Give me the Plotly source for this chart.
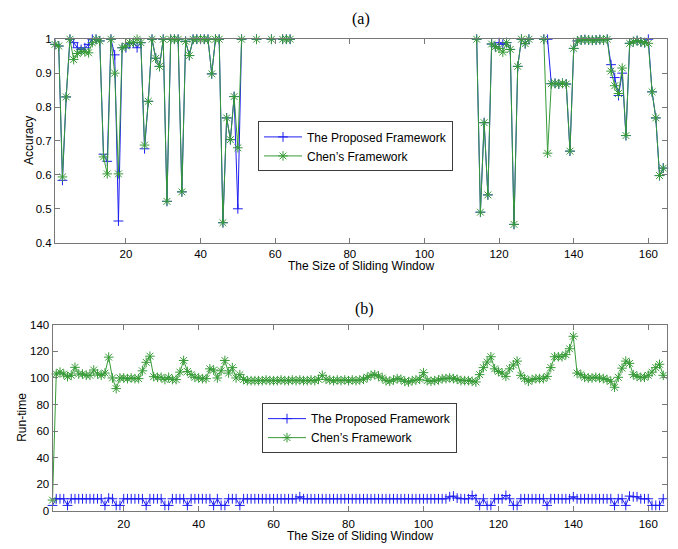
import plotly.graph_objects as go

# Sliding-window sizes
window = list(range(1, 165))

# (a) Accuracy, Chen's framework (None = no result for that window size)
acc_chen = [
    0.985, 0.98, 0.594, 0.83, 1.0, 0.94, 0.958, 0.965, 0.963, 0.96,
    0.99, 1.0, 0.995, 0.653, 0.603, 1.0, 0.90, 0.603, 0.975, 0.98,
    0.99, 0.99, 1.0, 0.99, 0.688, 0.817, 1.0, 0.944, 0.92, 1.0,
    0.522, 1.0, 1.0, 1.0, 0.55, 0.994, 0.952, 1.0, 1.0, 1.0,
    1.0, 1.0, 0.898, 1.0, 1.0, 0.459, 0.768, 0.704, 0.831, 0.68,
    1.0, None, None, None, 1.0, None, None, None, 1.0, None,
    None, 1.0, 1.0, 1.0] + [None] * 49 + [
    1.0, 0.49, 0.754, 0.541, 0.986, 0.978, 0.973, 0.962, 0.99, 0.97,
    0.454, 0.92, 1.0, 0.987, 1.0, None, None, None, 1.0, 0.664,
    0.869, 0.87, 0.868, 0.87, 0.868, 0.67, 0.973, 0.995, 0.998, 0.999,
    0.998, 0.997, 0.998, 0.999, 0.998, 1.0, 0.906, 0.863, 0.84, 0.915,
    0.716, 0.988, 0.993, 0.996, 0.992, 0.99, 0.988, 0.845, 0.768, 0.598,
    0.62]

# (a) Accuracy, proposed framework
acc_prop = [
    0.985, 0.98, 0.584, 0.83, 1.0, 0.99, 0.975, 0.97, 0.975, 0.985,
    1.0, 1.0, 0.995, 0.661, 0.64, 1.0, 0.954, 0.464, 0.975, 0.975,
    0.987, 0.99, 0.975, 0.99, 0.677, 0.817, 1.0, 0.944, 0.92, 1.0,
    0.522, 1.0, 1.0, 1.0, 0.55, 0.994, 0.952, 1.0, 1.0, 1.0,
    1.0, 1.0, 0.898, 1.0, 1.0, 0.459, 0.768, 0.704, 0.831, 0.5,
    1.0, None, None, None, 1.0, None, None, None, 1.0, None,
    None, 1.0, 1.0, 1.0] + [None] * 49 + [
    1.0, 0.49, 0.754, 0.541, 0.986, 0.978, 0.99, 0.985, 0.99, 0.97,
    0.454, 0.92, 1.0, 0.987, 1.0, None, None, None, 1.0, 1.0,
    0.869, 0.87, 0.868, 0.87, 0.868, 0.67, 0.973, 0.995, 0.998, 0.999,
    0.998, 0.997, 0.998, 0.999, 0.998, 1.0, 0.925, 0.887, 0.834, 0.9,
    0.716, 0.988, 0.993, 0.996, 0.992, 0.99, 1.0, 0.845, 0.768, 0.598,
    0.62]

# (b) Run-time, Chen's framework
rt_chen = [
    8, 103, 104.4, 103, 101, 102, 108, 103, 103, 102,
    102, 106, 103, 102, 103.7, 115.7, 100, 92, 100, 100,
    99.5, 100, 99.5, 99.5, 105.4, 111.8, 116.4, 101, 100.5, 100.5,
    98.8, 100.5, 98.8, 98.8, 104.4, 113.2, 104.9, 102.5, 100.5, 100,
    99.5, 99.5, 106.9, 106, 100, 105.4, 113.2, 103.7, 107.8, 100,
    102.5, 98.8, 98, 98, 98, 98, 98, 98.5, 98, 98,
    98, 98.5, 98, 98, 98.5, 98, 98.5, 98, 98, 98.5,
    98, 99, 102, 99, 98.5, 98, 98.5, 98, 98.5, 98,
    98.5, 98, 98.5, 99, 100.5, 102, 102.5, 101.5, 100, 98,
    97.5, 98.5, 99.5, 99, 97.5, 97, 98, 98.5, 99, 104,
    98, 97.5, 98, 98.5, 99.5, 99.5, 100, 99.5, 99, 98,
    98, 98, 97.5, 97, 102.5, 107.8, 112, 116, 106.9, 104.9,
    103.7, 101.2, 106.9, 109.8, 112.7, 102, 99.5, 97.5, 98.8, 99.5,
    99.5, 99.5, 101.2, 107.8, 116, 116, 116, 117.6, 122, 131.4,
    103.7, 102.5, 100.5, 100, 100, 100.5, 100, 99.5, 98.8, 97.5,
    93, 100.5, 107.4, 112.7, 111, 102.5, 101.2, 100.5, 100.5, 102,
    104.4, 107.8, 110.3, 102]

# (b) Run-time, proposed framework
rt_prop = [
    4, 9, 9, 9, 4, 9, 9, 9, 9, 9,
    9, 9, 9, 9, 4, 9.5, 9, 4, 4, 9,
    9, 9, 9, 9, 9, 4, 9, 9, 9, 9,
    4, 4, 9, 9, 9, 9, 4, 9, 9, 9,
    9, 9, 9, 4, 9, 4, 4, 9, 9, 9,
    4, 9, 9, 9, 9, 9, 9, 9, 9, 9,
    9, 9, 9, 9, 9, 9, 10.5, 9, 9, 9,
    9, 9, 9, 9, 9, 9, 9, 9, 9, 9,
    9, 9, 9, 9, 9, 9, 9, 9, 9, 9,
    9, 9, 9, 9, 9, 9, 9, 9, 9, 9,
    9, 9, 9, 9, 9, 9, 10.5, 11, 9.5, 9,
    9, 9, 11.5, 9, 4, 9, 4, 4, 9, 9,
    9, 11.5, 9, 4, 4, 9, 9, 9, 9, 9,
    9, 9, 4, 9, 9, 9, 9, 9, 9, 10.5,
    9, 9, 9, 9, 9, 9, 9, 9, 9, 9,
    4, 9, 9, 4, 11, 10.5, 10.5, 9, 9, 9,
    4, 4, 4, 9]

BLUE = "rgb(30,30,240)"
GREEN_LINE = "rgb(55,155,55)"
GREEN_MARK = "rgb(0,125,0)"
AXIS_GREY = "rgb(120,120,120)"
SANS = "Liberation Sans, Arial, sans-serif"
SERIF = "Liberation Serif, Times New Roman, serif"

fig = go.Figure()

def add_pair(xa, ya, prop, chen, legend):
    fig.add_trace(go.Scatter(
        x=window, y=prop, xaxis=xa, yaxis=ya, mode="lines+markers",
        name="The Proposed Framework", legend=legend, cliponaxis=False,
        line=dict(color=BLUE, width=1),
        marker=dict(symbol="cross-thin-open", size=7,
                    line=dict(color=BLUE, width=1)),
        connectgaps=False, hoverinfo="skip"))
    fig.add_trace(go.Scatter(
        x=window, y=chen, xaxis=xa, yaxis=ya, mode="lines+markers",
        name="Chen\u2019s Framework", legend=legend, cliponaxis=False,
        line=dict(color=GREEN_LINE, width=1),
        marker=dict(symbol="asterisk-open", size=8,
                    line=dict(color=GREEN_MARK, width=1)),
        connectgaps=False, hoverinfo="skip"))

add_pair("x", "y", acc_prop, acc_chen, "legend")
add_pair("x2", "y2", rt_prop, rt_chen, "legend2")

W, H = 678, 549

def ax_common():
    return dict(showline=True, mirror="ticks", linecolor=AXIS_GREY,
                linewidth=1, ticks="inside", ticklen=5, tickcolor=AXIS_GREY,
                showgrid=False, zeroline=False,
                tickfont=dict(family=SANS, size=11.5, color="black"))

xa = ax_common(); xa.update(range=[1, 165], tick0=0, dtick=20,
                            domain=[55 / W, 667 / W], anchor="y")
ya = ax_common(); ya.update(range=[0.4, 1], tick0=0.4, dtick=0.1,
                            domain=[1 - 242 / H, 1 - 34 / H], anchor="x")
xb = ax_common(); xb.update(range=[1, 165], tick0=0, dtick=20,
                            domain=[52.5 / W, 667 / W], anchor="y2",
                            ticklabelstandoff=2)
yb = ax_common(); yb.update(range=[0, 140], tick0=0, dtick=20,
                            domain=[1 - 516 / H, 1 - 326 / H], anchor="x2")

legend_style = dict(bgcolor="white", bordercolor="rgb(60,60,60)",
                    borderwidth=1, font=dict(family=SANS, size=12, color="black"),
                    itemwidth=38, xanchor="left", yanchor="top",
                    tracegroupgap=0)

def label(text, x, y, family=SANS, size=12, angle=0):
    return dict(text=text, x=x / W, y=1 - y / H, xref="paper", yref="paper",
                xanchor="center", yanchor="middle", showarrow=False,
                textangle=angle, font=dict(family=family, size=size,
                                           color="black"))

fig.update_layout(
    width=W, height=H, margin=dict(l=0, r=0, t=0, b=0),
    paper_bgcolor="white", plot_bgcolor="white",
    xaxis=xa, yaxis=ya, xaxis2=xb, yaxis2=yb,
    legend=dict(legend_style, x=258 / W, y=1 - 118 / H),
    legend2=dict(legend_style, x=262 / W, y=1 - 406 / H),
    annotations=[
        label("(a)", 361, 13, SERIF, 16),
        label("(b)", 364, 310, SERIF, 16),
        label("The Size of Sliding Window", 361, 266),
        label("The Size of Sliding Window", 360, 542),
        label("Accuracy", 29, 138, angle=-90),
        label("Run-time", 22, 421, angle=-90),
    ],
)

fig.write_html("out.html")
